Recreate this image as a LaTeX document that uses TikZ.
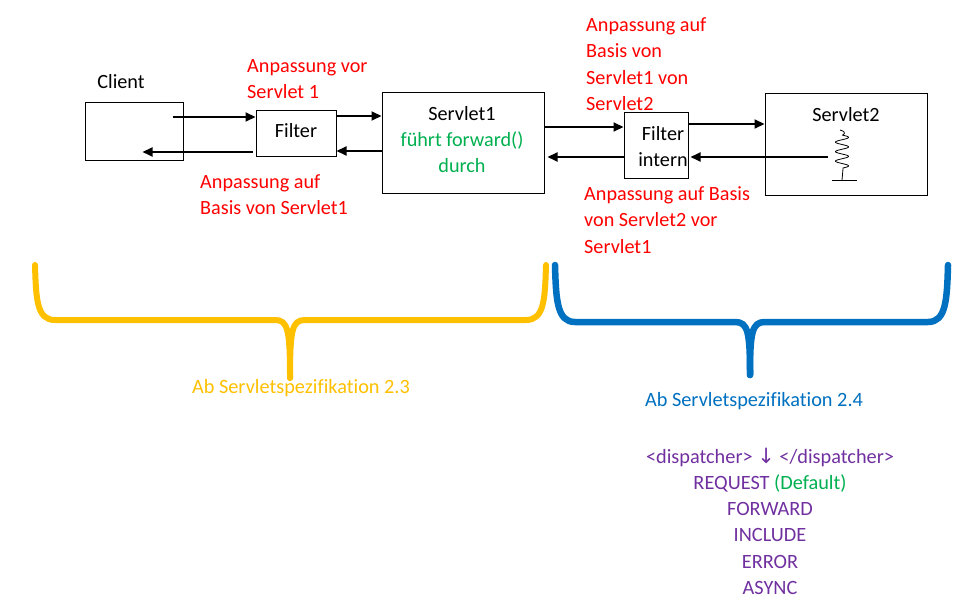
\documentclass[tikz,border=0pt]{standalone}
\usepackage{fontspec}
\setmainfont[Ligatures=NoCommon]{Carlito}
\newfontfamily\symfont{DejaVu Sans}
\usetikzlibrary{arrows.meta}
\definecolor{wred}{RGB}{255,0,0}
\definecolor{wgreen}{RGB}{0,176,80}
\definecolor{wyellow}{RGB}{255,192,0}
\definecolor{wblue}{RGB}{0,112,192}
\definecolor{wpurple}{RGB}{112,48,160}
\tikzset{
  box/.style={draw=black, line width=1pt, inner sep=0pt},
  txt/.style={inner sep=0pt, font=\fontsize{20.2}{26.5}\selectfont},
  bigtxt/.style={inner sep=0pt, font=\fontsize{20.3}{26.5}\selectfont},
  redtxt/.style={txt, text=wred, align=left, anchor=north west},
  arr/.style={line width=2pt, -{Triangle[length=10pt,width=9pt]}},
  ybrace/.style={draw=wyellow, line width=6pt, line cap=round, line join=round},
  bbrace/.style={draw=wblue, line width=6.5pt, line cap=round, line join=round},
}
\begin{document}
\begin{tikzpicture}[x=1pt,y=-1pt]
\useasboundingbox (0,0) rectangle (965,609);
% boxes
\node[box, minimum width=98pt, minimum height=58pt] (client) at (134,132) {};
\node[box, minimum width=80pt, minimum height=46pt] (filter) at (296,134) {};
\node[box, minimum width=162pt, minimum height=101pt] (servlet1) at (463,143.5) {};
\node[box, minimum width=64pt, minimum height=66pt] (filterin) at (656,146) {};
\node[box, minimum width=162pt, minimum height=102pt] (servlet2) at (846,145) {};
% box texts
\node[txt] (clientlbl) at (121,82) {Client};
\node[txt] (filterlbl) at (296,131) {Filter};
\node[txt] (s1a) at (462,114) {Servlet1};
\node[txt, text=wgreen] (s1b) at (462,141) {führt forward()};
\node[txt, text=wgreen] (s1c) at (462,166) {durch};
\node[txt] (fia) at (663,134) {Filter};
\node[txt] (fib) at (663,160) {intern};
\node[txt] (s2a) at (846,115) {Servlet2};
% squiggle in servlet2
\draw[line width=0.8pt] (840,130) .. controls (844,131) and (846,133) .. (843,135)
  plot[domain=0:33, samples=150, smooth] ({842+6.5*sin(\x*360/9.5)}, {135+\x}) -- (842,180);
\draw[line width=0.8pt] (832,180) -- (857,180);
\coordinate (sq) at (828,157);
% arrows
\draw[arr] ([shift={(-11pt,15pt)}]client.east) -- ([yshift=17pt]filter.west);
\draw[arr] ([shift={(-3pt,-18pt)}]filter.west) -- ([shift={(-41pt,-20pt)}]client.east);
\draw[arr] ([yshift=18pt]filter.east) -- ([yshift=27.5pt]servlet1.west);
\draw[arr] ([yshift=-7.5pt]servlet1.west) -- ([yshift=-17pt]filter.east);
\draw[arr] ([yshift=16.5pt]servlet1.east) -- ([yshift=19pt]filterin.west);
\draw[arr] ([yshift=-11pt]filterin.west) -- ([shift={(3pt,-13.5pt)}]servlet1.east);
\draw[arr] ([yshift=22pt]filterin.east) -- ([yshift=21pt]servlet2.west);
\draw[arr] (sq) -- ([shift={(2pt,-11pt)}]filterin.east);
% red labels
\node[redtxt] (l1) at (247,59) {Anpassung vor\\Servlet 1};
\node[redtxt] (l2) at (200,174) {Anpassung auf\\Basis von Servlet1};
\node[redtxt] (l3) at (586,17) {Anpassung auf\\Basis von\\Servlet1 von\\Servlet2};
\node[redtxt] (l4) at (584,186) {Anpassung auf Basis\\von Servlet2 vor\\Servlet1};
% braces
\draw[ybrace] (35,265) .. controls (36,300) and (37,320) .. (55,320) -- (275,320) .. controls (288,320) and (290,330) .. (290,378);
\draw[ybrace] (290,378) .. controls (290,330) and (292,320) .. (305,320) -- (526,320) .. controls (544,320) and (545,300) .. (546,265);
\draw[bbrace] (555,265) .. controls (556,300) and (557,322) .. (575,322) -- (735,322) .. controls (748,322) and (750,332) .. (750,375);
\draw[bbrace] (750,375) .. controls (750,332) and (752,322) .. (765,322) -- (928,322) .. controls (946,322) and (947,300) .. (948,265);
\node[bigtxt, text=wyellow] (spec23) at (301,388) {Ab Servletspezifikation 2.3};
\node[bigtxt, text=wblue] (spec24) at (754,401) {Ab Servletspezifikation 2.4};
% dispatcher list
\node[bigtxt, text=wpurple] (d0) at (770,457) {<dispatcher> {\symfont\fontsize{21}{24}\selectfont ↓} </dispatcher>};
\node[bigtxt, text=wpurple] (d1) at (770,483) {REQUEST \textcolor{wgreen}{(Default)}};
\node[bigtxt, text=wpurple] (d2) at (770,509) {FORWARD};
\node[bigtxt, text=wpurple] (d3) at (770,535) {INCLUDE};
\node[bigtxt, text=wpurple] (d4) at (770,562) {ERROR};
\node[bigtxt, text=wpurple] (d5) at (770,588) {ASYNC};
\end{tikzpicture}
\end{document}
